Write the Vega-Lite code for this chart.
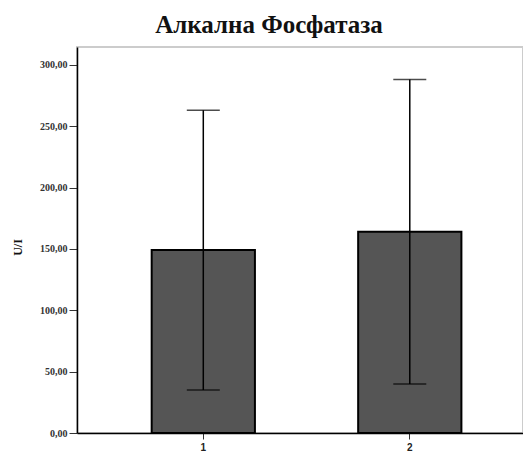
{
  "$schema": "https://vega.github.io/schema/vega-lite/v6.json",
  "width": 446,
  "height": 386,
  "autosize": "none",
  "padding": {"left": 77, "top": 47, "right": 0, "bottom": 25},
  "background": "white",
  "title": {
    "text": "Алкална Фосфатаза",
    "font": "Liberation Serif",
    "fontSize": 25,
    "fontWeight": "bold",
    "color": "#111111",
    "anchor": "middle",
    "frame": "group",
    "dx": -31,
    "dy": 24,
    "baseline": "alphabetic",
    "offset": 13
  },
  "config": {
    "view": {"stroke": "#cccccc", "strokeWidth": 2},
    "axis": {"grid": false, "domainColor": "#000000", "domainWidth": 1.5, "tickColor": "#333333"}
  },
  "data": {
    "values": [
      {"group": "1", "mean": 149.1, "lo": 35.0, "hi": 263.0},
      {"group": "2", "mean": 164.1, "lo": 40.0, "hi": 288.2}
    ]
  },
  "encoding": {
    "x": {
      "field": "group",
      "type": "nominal",
      "scale": {"paddingInner": 0.5, "paddingOuter": 0.33, "align": 0.548},
      "axis": {
        "title": null,
        "labelAngle": 0,
        "labelFont": "Liberation Sans",
        "labelFontWeight": "bold",
        "labelFontSize": 10,
        "labelColor": "#222222",
        "tickSize": 6,
        "labelPadding": 3
      }
    }
  },
  "layer": [
    {
      "mark": {"type": "bar", "fill": "#555555", "stroke": "#000000", "strokeWidth": 2},
      "encoding": {
        "y": {
          "field": "mean",
          "type": "quantitative",
          "scale": {"domain": [0, 314.6], "nice": false},
          "axis": {
            "title": "U/I",
            "titleFont": "Liberation Serif",
            "titleFontWeight": "bold",
            "titleFontSize": 12,
            "titleColor": "#111111",
            "titlePadding": 15,
            "titleY": 200,
            "values": [0, 50, 100, 150, 200, 250, 300],
            "labelExpr": "replace(format(datum.value, '.2f'), '.', ',')",
            "labelFont": "Liberation Sans Narrow",
            "labelFontWeight": "bold",
            "labelFontSize": 10,
            "labelColor": "#333333",
            "tickSize": 8,
            "labelPadding": 2
          }
        }
      }
    },
    {
      "mark": {"type": "rule", "color": "#000000", "strokeWidth": 1.5},
      "encoding": {
        "y": {"field": "lo", "type": "quantitative"},
        "y2": {"field": "hi"}
      }
    },
    {
      "mark": {"type": "tick", "color": "#000000", "size": 33, "thickness": 1.5},
      "encoding": {"y": {"field": "hi", "type": "quantitative"}}
    },
    {
      "mark": {"type": "tick", "color": "#000000", "size": 33, "thickness": 1.5},
      "encoding": {"y": {"field": "lo", "type": "quantitative"}}
    }
  ]
}
